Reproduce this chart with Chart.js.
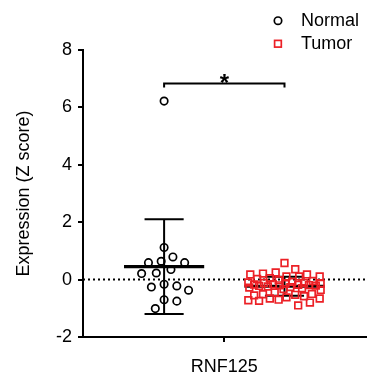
<!DOCTYPE html>
<html>
<head>
<meta charset="utf-8">
<script src="https://cdn.jsdelivr.net/npm/chart.js@4.4.0/dist/chart.umd.min.js"></script>
<style>
  html, body { margin: 0; padding: 0; background: #fff; }
</style>
</head>
<body>
<canvas id="exprChart" width="372" height="378"></canvas>
<script>
'use strict';

var categories = ['RNF125'];
var groupNames = ['Normal', 'Tumor'];
var normalValues = [6.22, 1.12, 0.79, 0.64, 0.59, 0.59, 0.35, 0.23, 0.21,
    -0.16, -0.22, -0.26, -0.37, -0.70, -0.75, -1.01];
var tumorValues = [0.58, 0.36, 0.25, 0.21, 0.18, 0.18, 0.11, 0.11, 0.11, 0.05, 0.02,
    -0.02, -0.05, -0.08, -0.10, -0.12, -0.12, -0.14, -0.15, -0.16, -0.17, -0.18,
    -0.19, -0.20, -0.21, -0.22, -0.24, -0.26, -0.28, -0.30, -0.33, -0.36,
    -0.45, -0.50, -0.51, -0.53, -0.55, -0.58, -0.62, -0.66, -0.66, -0.70,
    -0.74, -0.72, -0.80, -0.90];
var yTicks = [-2, 0, 2, 4, 6, 8];
var sigText = '*';

var FONT = "'Liberation Sans', Arial, Helvetica, sans-serif";
var RED = 'rgb(236, 32, 38)';
var groupCentres = [0.287, 0.713];
var PX_PER_Y = 28.7;     // plot height / y range
var PX_PER_X = 289;      // plot width / x range
var DIAM = 12.5;
var MAX_HALF = 37;
var SIG_Y = 6.83;

Chart.defaults.font.family = FONT;

function meanOf(a) {
    return a.reduce(function(s, v){ return s + v; }, 0) / a.length;
}

function sdOf(a) {
    var m = meanOf(a);
    var ss = a.reduce(function(s, v){ return s + (v - m) * (v - m); }, 0);
    return Math.sqrt(ss / (a.length - 1));
}

// simple beeswarm so the points don't sit on top of each other
function swarm(values, centre) {
    var placed = [];
    var pts = new Array(values.length);
    var idx = values.map(function(v, i){ return i; });
    idx.sort(function(a, b){ return values[b] - values[a]; });
    idx.forEach(function(i){
        var py = values[i] * PX_PER_Y;
        var best = 0, bestGap = -1;
        for (var k = 0; k <= 2 * MAX_HALF; k++) {
            var off = k % 2 ? (k + 1) / 2 : -k / 2;
            var gap = Infinity;
            placed.forEach(function(p){
                var d = Math.hypot(p.ox - off, p.py - py);
                if (d < gap) gap = d;
            });
            if (gap >= DIAM) { best = off; break; }
            if (gap > bestGap) { bestGap = gap; best = off; }
        }
        placed.push({ox: best, py: py});
        pts[i] = {x: centre + best / PX_PER_X, y: values[i]};
    });
    return pts;
}

function segment(x1, y1, x2, y2, width) {
    return {
        data: [{x: x1, y: y1}, {x: x2, y: y2}],
        showLine: true,
        borderColor: '#000',
        borderWidth: width,
        pointRadius: 0,
        order: 1
    };
}

function summaryLines(values, centre) {
    var m = meanOf(values), sd = sdOf(values);
    var mw = 41 / PX_PER_X, cw = 20 / PX_PER_X;
    return [
        segment(centre - mw, m, centre + mw, m, 3.2),
        segment(centre, m - sd, centre, m + sd, 2),
        segment(centre - cw, m + sd, centre + cw, m + sd, 2),
        segment(centre - cw, m - sd, centre + cw, m - sd, 2)
    ];
}

var datasets = [
    {
        label: groupNames[0],
        data: swarm(normalValues, groupCentres[0]),
        pointStyle: 'circle',
        pointRadius: 3.7,
        borderWidth: 1.7,
        borderColor: '#000',
        backgroundColor: 'transparent',
        order: 0
    },
    {
        label: groupNames[1],
        data: swarm(tumorValues, groupCentres[1]),
        pointStyle: 'rect',
        pointRadius: 4.7,
        borderWidth: 1.7,
        borderColor: RED,
        backgroundColor: 'transparent',
        order: 0
    },
    {
        data: [{x: 0, y: 0}, {x: 1, y: 0}],
        showLine: true,
        borderColor: '#000',
        borderWidth: 2,
        borderDash: [2, 3],
        pointRadius: 0,
        order: 2
    }
].concat(summaryLines(normalValues, groupCentres[0]), summaryLines(tumorValues, groupCentres[1]));

var extras = {
    id: 'extras',
    afterDatasetsDraw: function(chart) {
        var ctx = chart.ctx, xs = chart.scales.x, ys = chart.scales.y;
        var x1 = xs.getPixelForValue(groupCentres[0]);
        var x2 = xs.getPixelForValue(groupCentres[1]);
        var yb = ys.getPixelForValue(SIG_Y);
        ctx.save();
        ctx.strokeStyle = '#000';
        ctx.lineWidth = 2;
        ctx.beginPath();
        ctx.moveTo(x1, yb + 4);
        ctx.lineTo(x1, yb);
        ctx.lineTo(x2, yb);
        ctx.lineTo(x2, yb + 4);
        ctx.stroke();
        ctx.fillStyle = '#000';
        ctx.font = 'bold 24px ' + FONT;
        ctx.textAlign = 'center';
        ctx.textBaseline = 'alphabetic';
        ctx.fillText(sigText, (x1 + x2) / 2, yb + 7);
        ctx.restore();
    },
    afterDraw: function(chart) {
        var ctx = chart.ctx;
        ctx.save();
        ctx.lineWidth = 1.7;
        ctx.strokeStyle = '#000';
        ctx.beginPath();
        ctx.arc(278, 20.7, 3.7, 0, Math.PI * 2);
        ctx.stroke();
        ctx.strokeStyle = RED;
        ctx.strokeRect(274.6, 40.4, 6.7, 6.7);
        ctx.fillStyle = '#000';
        ctx.font = '18px ' + FONT;
        ctx.textAlign = 'left';
        ctx.textBaseline = 'middle';
        ctx.fillText(groupNames[0], 301, 21);
        ctx.fillText(groupNames[1], 301, 44);
        ctx.restore();
    }
};

var axisGrid = {
    display: true,
    drawOnChartArea: false,
    drawTicks: true,
    tickLength: 5,
    color: '#000',
    lineWidth: 2
};

var chart = new Chart(document.getElementById('exprChart'), {
    type: 'scatter',
    data: { datasets: datasets },
    options: {
        responsive: false,
        animation: false,
        layout: { padding: { top: 50, left: 0, right: 0, bottom: 0 } },
        plugins: {
            legend: { display: false },
            tooltip: { enabled: false }
        },
        scales: {
            x: {
                type: 'linear',
                min: 0,
                max: 1,
                afterBuildTicks: function(scale) { scale.ticks = [{value: 0.5}]; },
                afterFit: function(scale) { scale.height = 41; },
                ticks: {
                    callback: function() { return categories[0]; },
                    color: '#000',
                    font: { size: 18 },
                    padding: 14,
                    maxRotation: 0,
                    autoSkip: false
                },
                grid: axisGrid,
                border: { display: true, color: '#000', width: 2 }
            },
            y: {
                type: 'linear',
                min: -2,
                max: 8,
                afterBuildTicks: function(scale) {
                    scale.ticks = yTicks.map(function(v){ return {value: v}; });
                },
                afterFit: function(scale) { scale.width = 83; },
                ticks: { color: '#000', font: { size: 18 }, padding: 6 },
                grid: axisGrid,
                border: { display: true, color: '#000', width: 2 },
                title: {
                    display: true,
                    text: 'Expression (Z score)',
                    color: '#000',
                    font: { size: 18 },
                    padding: { top: 13, bottom: 0 }
                }
            }
        }
    },
    plugins: [extras]
});
</script>
</body>
</html>
